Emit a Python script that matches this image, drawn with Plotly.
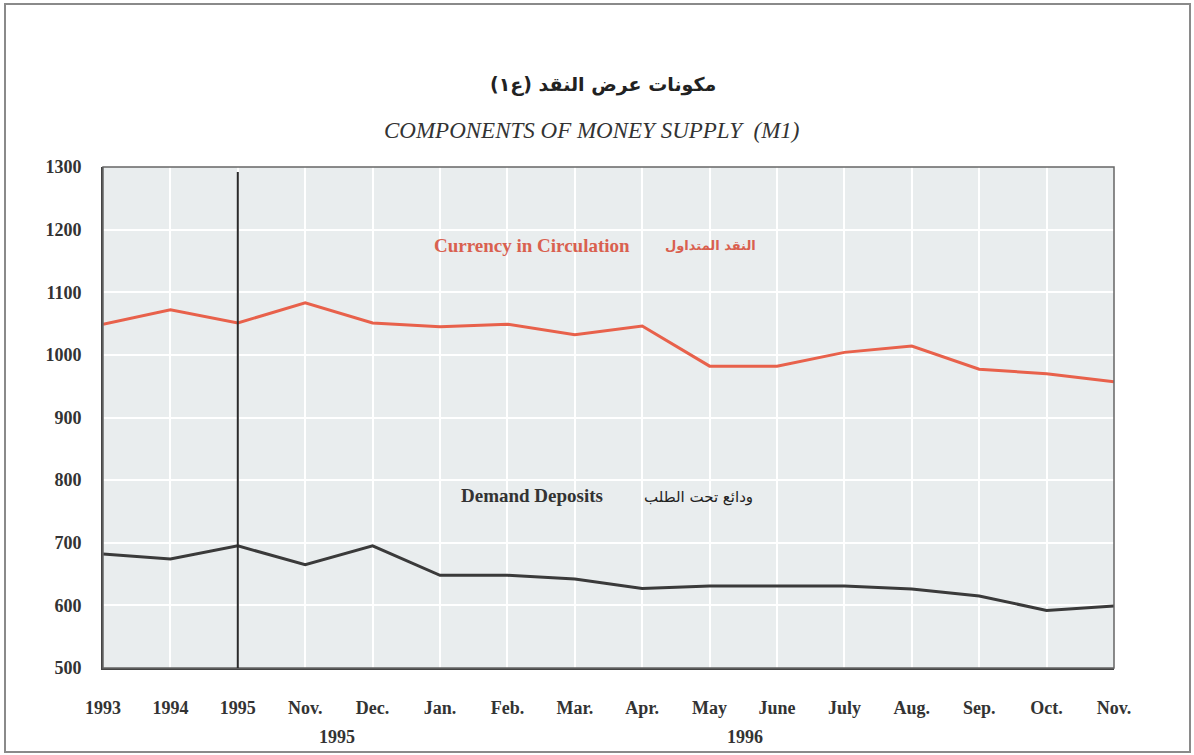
import plotly.graph_objects as go

categories = ["1993", "1994", "1995", "Nov.", "Dec.", "Jan.", "Feb.", "Mar.", "Apr.",
              "May", "June", "July", "Aug.", "Sep.", "Oct.", "Nov."]
currency = [1049, 1072, 1051, 1083, 1051, 1045, 1049, 1032, 1046, 982, 982, 1004, 1014, 977, 970, 957]
demand = [682, 674, 695, 665, 695, 648, 648, 642, 627, 631, 631, 631, 626, 615, 592, 599]
y_ticks = [500, 600, 700, 800, 900, 1000, 1100, 1200, 1300]

xs = list(range(len(categories)))

SERIF = "Liberation Serif"
RED = "#e8614b"
DARK = "#3a3a3a"

# plot area in screen pixels
PL, PR, PT, PB = 103, 1114, 167, 668
PW, PH = PR - PL, PB - PT
W, H = 1194, 755


def px(x):
    return (x - PL) / PW


def py(y):
    return (PB - y) / PH


def dx(x):
    return (x - PL) / PW * (len(categories) - 1)


fig = go.Figure()
fig.add_trace(go.Scatter(x=xs, y=currency, mode="lines",
                         line=dict(color=RED, width=3), showlegend=False, hoverinfo="skip"))
fig.add_trace(go.Scatter(x=xs, y=demand, mode="lines",
                         line=dict(color=DARK, width=3), showlegend=False, hoverinfo="skip"))

tickfont = dict(family=SERIF, size=18, color="#333333", weight="bold")

fig.update_layout(
    width=W, height=H,
    margin=dict(l=PL, r=W - PR, t=PT, b=H - PB),
    paper_bgcolor="white",
    plot_bgcolor="#e9edee",
    xaxis=dict(range=[0, len(categories) - 1], tickvals=xs, ticktext=categories,
               showgrid=True, gridcolor="white", gridwidth=2,
               showline=True, linecolor="#444444", linewidth=2, mirror=False,
               ticks="", tickfont=tickfont, ticklabelstandoff=22, zeroline=False),
    yaxis=dict(range=[500, 1300], tickvals=y_ticks,
               showgrid=True, gridcolor="white", gridwidth=2,
               showline=True, linecolor="#444444", linewidth=2,
               ticks="", tickfont=tickfont, ticklabelstandoff=16, zeroline=False),
)

# plot box (top/right thin)
fig.add_shape(type="rect", xref="paper", yref="paper", x0=0, x1=1, y0=0, y1=1,
              line=dict(color="#666666", width=1.5), layer="above")
# outer frame
fig.add_shape(type="rect", xref="paper", yref="paper",
              x0=px(5), x1=px(1190), y0=py(752), y1=py(4),
              line=dict(color="#8a8a8a", width=2))
# vertical separator at 1995
fig.add_shape(type="line", xref="x", yref="y", x0=2, x1=2, y0=1292, y1=500,
              line=dict(color="#2a2a2a", width=2), layer="above")

# titles
fig.add_annotation(text="<b>مكونات عرض النقد (ع١)</b>", xref="paper", yref="paper",
                   x=px(603), y=py(85), xanchor="center", yanchor="middle", showarrow=False,
                   font=dict(family="DejaVu Sans", size=19, color="#222222"))
fig.add_annotation(text="<i>COMPONENTS OF MONEY SUPPLY  (M1)</i>", xref="paper", yref="paper",
                   x=px(591), y=py(130), xanchor="center", yanchor="middle", showarrow=False,
                   font=dict(family=SERIF, size=23, color="#333333"))

# series labels
fig.add_annotation(text="<b>Currency in Circulation</b>", x=dx(532), y=1174, showarrow=False,
                   yanchor="middle", font=dict(family=SERIF, size=19, color="#d9604f"))
fig.add_annotation(text="<b>النقد المتداول</b>", x=dx(710), y=1174, showarrow=False,
                   yanchor="middle", font=dict(family="DejaVu Sans", size=13, color="#d9604f"))
fig.add_annotation(text="<b>Demand Deposits</b>", x=dx(532), y=776, showarrow=False,
                   yanchor="middle", font=dict(family=SERIF, size=19, color="#333333"))
fig.add_annotation(text="ودائع تحت الطلب", x=dx(698), y=773, showarrow=False,
                   yanchor="middle", font=dict(family="DejaVu Sans", size=15, color="#222222"))

# year group labels
fig.add_annotation(text="<b>1995</b>", xref="x", yref="paper", x=dx(337), y=py(737),
                   yanchor="middle", showarrow=False, font=tickfont)
fig.add_annotation(text="<b>1996</b>", xref="x", yref="paper", x=dx(745), y=py(737),
                   yanchor="middle", showarrow=False, font=tickfont)

fig.write_html("out.html", config={"displayModeBar": False},
               post_script="document.body.style.margin='0';document.body.style.overflow='hidden';")
